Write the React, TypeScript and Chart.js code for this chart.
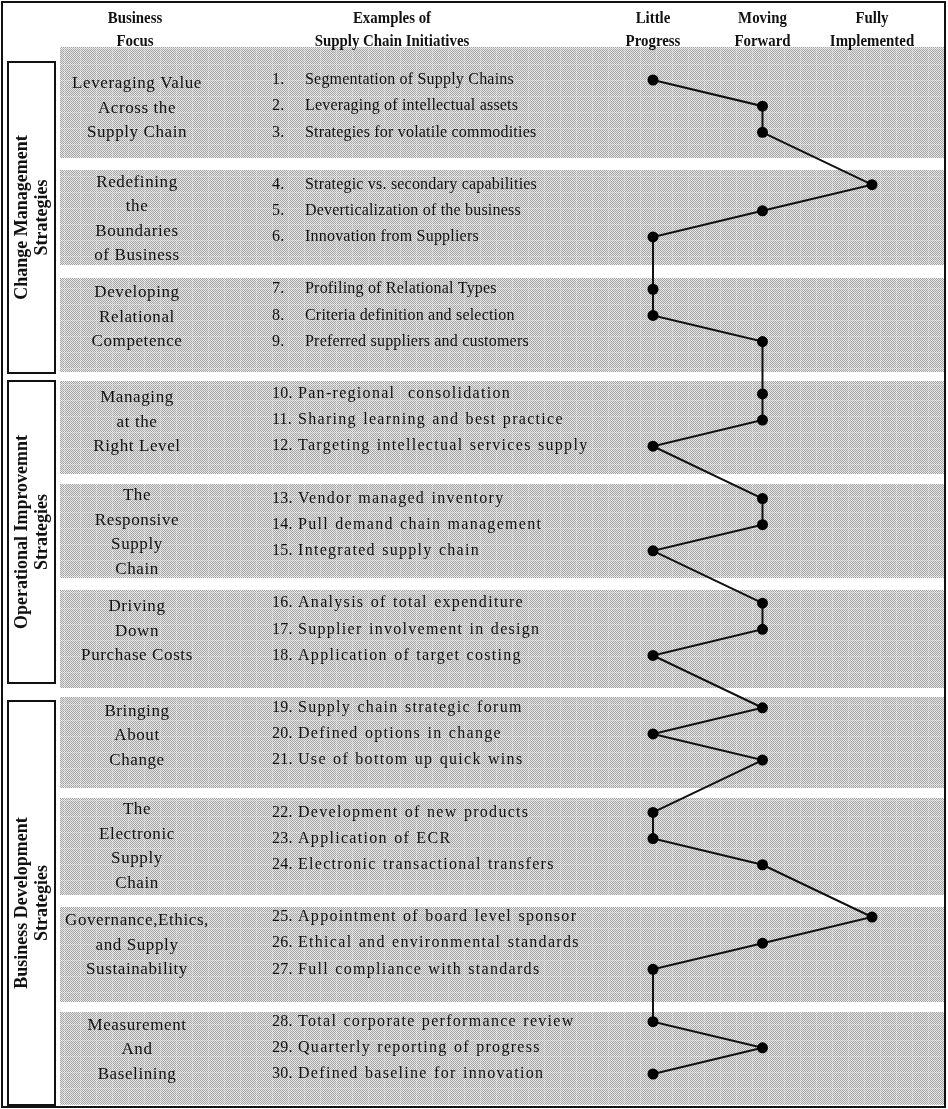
import React, { useEffect, useRef } from "react";
import { Chart, registerables } from "chart.js";

Chart.register(...registerables);

// ---------- DATA ----------
const levelHeaders: string[][] = [
  ["Little", "Progress"],
  ["Moving", "Forward"],
  ["Fully", "Implemented"],
];

const strategyLabels: string[][] = [
  ["Change Management", "Strategies"],
  ["Operational Improvemnt", "Strategies"],
  ["Business Development", "Strategies"],
];

const focusAreas: string[][] = [
  ["Leveraging Value", "Across the", "Supply Chain"],
  ["Redefining", "the", "Boundaries", "of Business"],
  ["Developing", "Relational", "Competence"],
  ["Managing", "at the", "Right Level"],
  ["The", "Responsive", "Supply", "Chain"],
  ["Driving", "Down", "Purchase Costs"],
  ["Bringing", "About", "Change"],
  ["The", "Electronic", "Supply", "Chain"],
  ["Governance,Ethics,", "and Supply", "Sustainability"],
  ["Measurement", "And", "Baselining"],
];

const initiatives: string[] = [
  "Segmentation of Supply Chains",
  "Leveraging of intellectual assets",
  "Strategies for volatile commodities",
  "Strategic vs. secondary capabilities",
  "Deverticalization of the business",
  "Innovation from Suppliers",
  "Profiling of Relational Types",
  "Criteria definition and selection",
  "Preferred suppliers and customers",
  "Pan-regional  consolidation",
  "Sharing learning and best practice",
  "Targeting intellectual services supply",
  "Vendor managed inventory",
  "Pull demand chain management",
  "Integrated supply chain",
  "Analysis of total expenditure",
  "Supplier involvement in design",
  "Application of target costing",
  "Supply chain strategic forum",
  "Defined options in change",
  "Use of bottom up quick wins",
  "Development of new products",
  "Application of ECR",
  "Electronic transactional transfers",
  "Appointment of board level sponsor",
  "Ethical and environmental standards",
  "Full compliance with standards",
  "Total corporate performance review",
  "Quarterly reporting of progress",
  "Defined baseline for innovation",
];

// 1 = Little Progress, 2 = Moving Forward, 3 = Fully Implemented
const progress: number[] = [
  1, 2, 2, 3, 2, 1, 1, 1, 2, 2, 2, 1, 2, 2, 1, 2, 2, 1, 2, 1, 2, 1, 1, 2, 3, 2, 1, 1, 2, 1,
];

// ---------- LAYOUT ----------
const W = 948;
const H = 1109;
const ROWS_PER_GROUP = 3;
const ROW0_PX = 80;
const ROW_STEP = 26.158;
const X1_PX = 653;
const X_STEP = 109.5;

const BAND_LEFT = 60;
const BAND_RIGHT = 946;
const BANDS: [number, number][] = [
  [47, 158],
  [170, 265],
  [278, 372],
  [381, 474],
  [484, 578],
  [590, 688],
  [697, 788],
  [798, 895],
  [907, 1002],
  [1012, 1105],
];
const BOXES: [number, number][] = [
  [62, 373],
  [381, 683],
  [701, 1105],
];

const SERIF = '"Liberation Serif", "Times New Roman", serif';

const slotOf = (i: number) => i + Math.floor(i / ROWS_PER_GROUP);

function makePattern(ctx: CanvasRenderingContext2D): CanvasPattern | string {
  const t = document.createElement("canvas");
  t.width = 16;
  t.height = 16;
  const c = t.getContext("2d");
  if (!c) return "#c8c8c8";
  for (let y = 0; y < 16; y++) {
    for (let x = 0; x < 16; x++) {
      const grid = x === 0 || y === 0;
      const dark = (x + y) % 2 === 0;
      c.fillStyle = grid ? (dark ? "#bdbdbd" : "#ececec") : dark ? "#a2a2a2" : "#e8e8e8";
      c.fillRect(x, y, 1, 1);
    }
  }
  return ctx.createPattern(t, "repeat") || "#c8c8c8";
}

const tablePlugin = {
  id: "tableLayout",
  beforeDatasetsDraw(chart: any) {
    const ctx: CanvasRenderingContext2D = chart.ctx;
    const xs = chart.scales.x;
    const ys = chart.scales.y;
    const anyCtx = ctx as any;
    ctx.save();
    ctx.fillStyle = "#ffffff";
    ctx.fillRect(0, 0, W, H);

    // shaded bands
    ctx.fillStyle = makePattern(ctx);
    BANDS.forEach(([t, b]) => ctx.fillRect(BAND_LEFT, t, BAND_RIGHT - BAND_LEFT, b - t));

    // outer frame
    ctx.strokeStyle = "#111";
    ctx.lineWidth = 2;
    ctx.strokeRect(2, 2, W - 5, H - 4);

    // strategy boxes
    BOXES.forEach(([t, b], k) => {
      ctx.fillStyle = "#fff";
      ctx.fillRect(8, t, 47, b - t);
      ctx.lineWidth = 2;
      ctx.strokeStyle = "#111";
      ctx.strokeRect(8, t, 47, b - t);
      ctx.save();
      ctx.translate(32.5, (t + b) / 2);
      ctx.rotate(-Math.PI / 2);
      ctx.fillStyle = "#111";
      ctx.font = `bold 18px ${SERIF}`;
      ctx.textAlign = "center";
      ctx.textBaseline = "middle";
      ctx.fillText(strategyLabels[k][0], 0, -10);
      ctx.fillText(strategyLabels[k][1], 0, 10);
      ctx.restore();
    });

    // headers (slightly condensed bold)
    ctx.fillStyle = "#111";
    ctx.font = `bold 16px ${SERIF}`;
    ctx.textAlign = "center";
    ctx.textBaseline = "middle";
    const head = (s: string, x: number, y: number) => {
      ctx.save();
      ctx.translate(x, y);
      ctx.scale(0.93, 1);
      ctx.fillText(s, 0, 0);
      ctx.restore();
    };
    head("Business", 135, 19);
    head("Focus", 135, 42);
    head("Examples of", 392, 19);
    head("Supply Chain Initiatives", 392, 42);
    levelHeaders.forEach((lines, k) => {
      const x = xs.getPixelForValue(k + 1);
      head(lines[0], x, 19);
      head(lines[1], x, 42);
    });

    // focus areas
    ctx.font = `17px ${SERIF}`;
    anyCtx.letterSpacing = "0.6px";
    focusAreas.forEach((lines, g) => {
      const mid = ys.getPixelForValue(slotOf(g * ROWS_PER_GROUP + 1));
      const center = mid + (lines.length === 4 ? 8 : 2);
      const step = 24.5;
      lines.forEach((ln, j) => {
        ctx.fillText(ln, 137, center + (j - (lines.length - 1) / 2) * step);
      });
    });

    // initiatives
    ctx.font = `16px ${SERIF}`;
    ctx.textAlign = "left";
    initiatives.forEach((txt, i) => {
      const y = ys.getPixelForValue(slotOf(i));
      const n = i + 1;
      anyCtx.letterSpacing = "0.2px";
      anyCtx.wordSpacing = "0px";
      ctx.fillText(`${n}.`, 272, y);
      if (n >= 10) {
        anyCtx.letterSpacing = "1.3px";
        anyCtx.wordSpacing = "1px";
      }
      ctx.fillText(txt, n < 10 ? 305 : 298, y);
    });
    anyCtx.letterSpacing = "0px";
    anyCtx.wordSpacing = "0px";
    ctx.restore();
  },
};

export default function App() {
  const ref = useRef<HTMLCanvasElement>(null);
  useEffect(() => {
    document.body.style.margin = "0";
    const canvas = ref.current;
    if (!canvas) return;
    const yMin = -ROW0_PX / ROW_STEP;
    const yMax = (H - ROW0_PX) / ROW_STEP;
    const xMin = 1 - X1_PX / X_STEP;
    const xMax = xMin + W / X_STEP;
    const chart = new Chart(canvas, {
      type: "line",
      data: {
        datasets: [
          {
            data: progress.map((p, i) => ({ x: p, y: slotOf(i) })),
            borderColor: "#111",
            borderWidth: 2,
            backgroundColor: "#000",
            pointBackgroundColor: "#000",
            pointBorderColor: "#000",
            pointBorderWidth: 0,
            pointRadius: 5.5,
            tension: 0,
            fill: false,
          },
        ],
      },
      options: {
        responsive: false,
        maintainAspectRatio: false,
        animation: false,
        events: [],
        layout: { padding: 0, autoPadding: false },
        plugins: { legend: { display: false }, tooltip: { enabled: false } },
        scales: {
          x: { type: "linear", min: xMin, max: xMax, display: false },
          y: { type: "linear", reverse: true, min: yMin, max: yMax, display: false },
        },
      },
      plugins: [tablePlugin as any],
    });
    return () => chart.destroy();
  }, []);
  return (
    <div style={{ width: W, height: H }}>
      <canvas ref={ref} width={W} height={H} style={{ display: "block" }} />
    </div>
  );
}
